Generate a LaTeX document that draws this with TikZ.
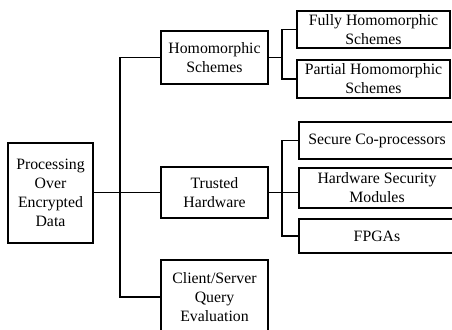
\documentclass[tikz,border=0pt]{standalone}
\usepackage{fontspec}
\setmainfont{Liberation Serif}
\begin{document}
\begin{tikzpicture}[x=1pt,y=-1pt,
  box/.style={draw,line width=1.1pt,align=center,inner sep=0pt,
    font=\fontsize{15.8}{19}\selectfont},
  link/.style={line width=1.1pt}]
\useasboundingbox (0,0) rectangle (452,329);
\begin{scope}
\clip (0,0) rectangle (452,329);
% root and first level
\node[box,minimum width=85,minimum height=100] (root) at (50.5,193) {Processing\\Over\\Encrypted\\Data};
\node[box,minimum width=107,minimum height=53] (hs) at (214.5,57.5) {Homomorphic\\Schemes};
\node[box,minimum width=107,minimum height=51] (th) at (214.5,192.5) {Trusted\\Hardware};
\node[box,minimum width=107,minimum height=74] (cs) at (214.5,297) {Client/Server\\Query\\Evaluation};
% second level
\node[box,minimum width=153,minimum height=37] (fh) at (373.5,29.5) {Fully Homomorphic\\Schemes};
\node[box,minimum width=153,minimum height=38] (ph) at (373.5,79) {Partial Homomorphic\\Schemes};
\node[box,minimum width=156,minimum height=37] (sc) at (377,140.5) {Secure Co-processors};
\node[box,minimum width=156,minimum height=40] (hsm) at (377,188) {Hardware Security\\Modules};
\node[box,minimum width=156,minimum height=34] (fpga) at (377,236) {FPGAs};
% junctions
\coordinate (j1) at (120,192.5);
\coordinate (j2) at (282,57.5);
\coordinate (j3) at (282,192.5);
% connectors
\draw[link] (root.east |- j1) -- (th.west);
\draw[link] (hs.west) -| (j1) |- (cs.west);
\draw[link] (hs.east) -- (j2);
\draw[link] (fh.west) -| (j2) |- (ph.west);
\draw[link] (th.east) -- (th.east -| hsm.west);
\draw[link] (sc.west) -| (j3) |- (fpga.west);
\end{scope}
\end{tikzpicture}
\end{document}
